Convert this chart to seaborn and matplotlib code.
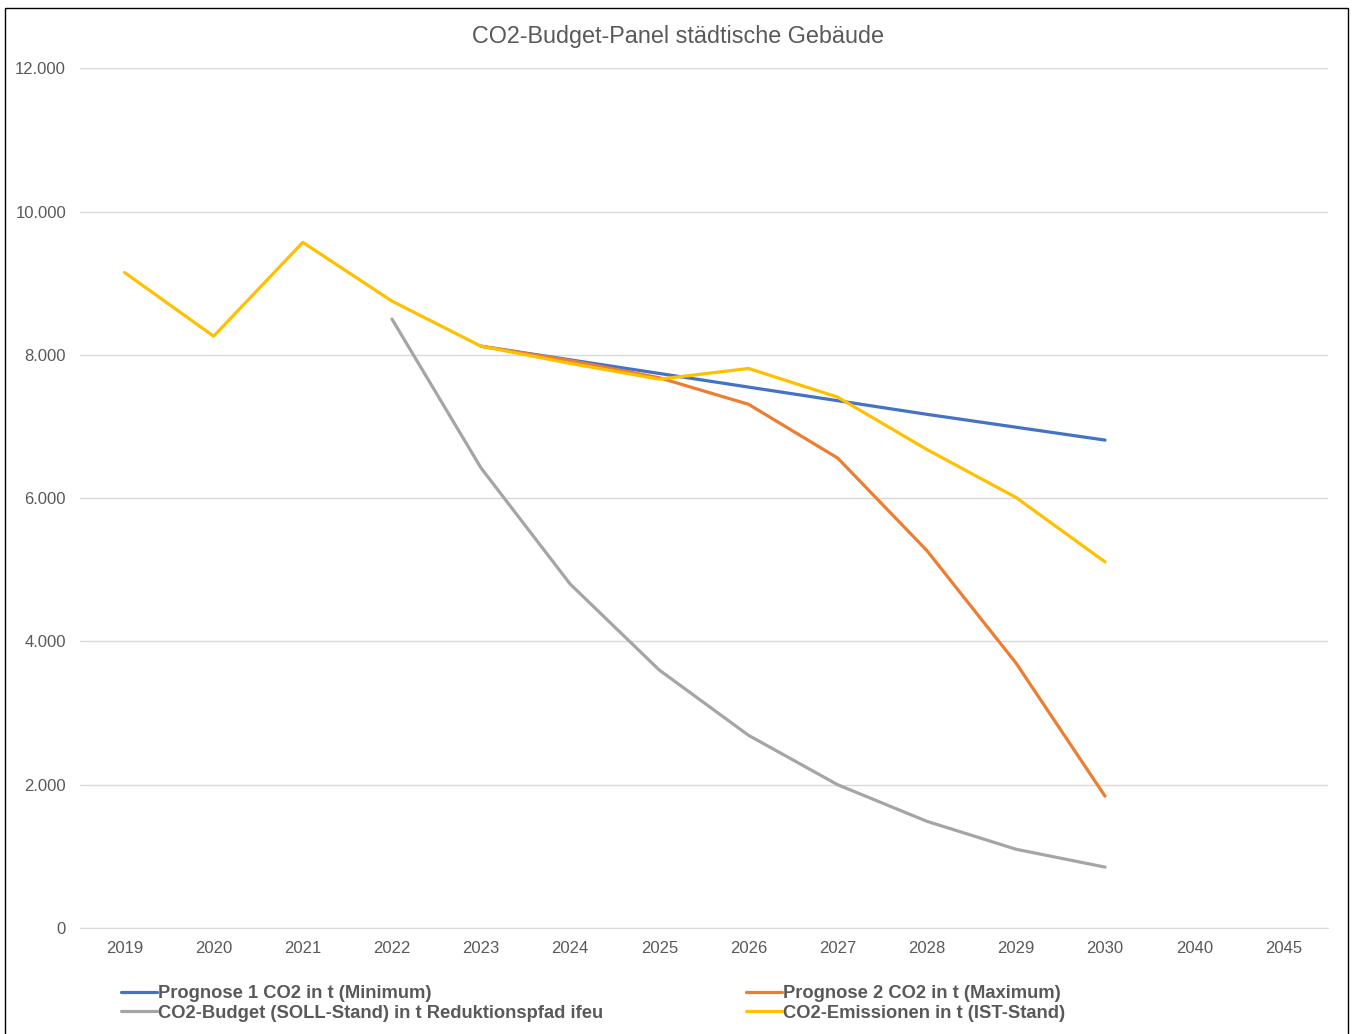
import seaborn as sns
import matplotlib.pyplot as plt
import numpy as np
import pandas as pd
from matplotlib.patches import Rectangle
from matplotlib.ticker import FuncFormatter

years = ["2019", "2020", "2021", "2022", "2023", "2024", "2025",
         "2026", "2027", "2028", "2029", "2030", "2040", "2045"]

nan = np.nan
prognose_min = [nan, nan, nan, nan, 8120, 7930, 7740, 7550, 7360, 7170, 6990, 6810, nan, nan]
prognose_max = [nan, nan, nan, nan, 8120, 7920, 7680, 7310, 6560, 5270, 3700, 1840, nan, nan]
budget_soll = [nan, nan, nan, 8500, 6420, 4800, 3600, 2690, 2000, 1490, 1100, 850, nan, nan]
emissionen_ist = [9150, 8260, 9570, 8750, 8120, 7880, 7660, 7810, 7410, 6680, 6010, 5110, nan, nan]

labels = ["Prognose 1 CO2 in t (Minimum)",
          "Prognose 2 CO2 in t (Maximum)",
          "CO2-Budget (SOLL-Stand) in t Reduktionspfad ifeu",
          "CO2-Emissionen in t (IST-Stand)"]
colors = ["#4472C4", "#ED7D31", "#A5A5A5", "#FFC000"]

sns.set_style("white")
plt.rcParams['font.family'] = ['Liberation Sans', 'DejaVu Sans']
text_gray = "#595959"

fig = plt.figure(figsize=(13.55, 10.34), dpi=100)
ax = fig.add_axes([0.059, 0.1025, 0.921, 0.8315])

pos = np.arange(len(years))
series = [prognose_min, prognose_max, budget_soll, emissionen_ist]
for vals, lab, col in zip(series, labels, colors):
    df = pd.DataFrame({"x": pos, "y": vals}).dropna()
    sns.lineplot(data=df, x="x", y="y", color=col, linewidth=2.3,
                 label=lab, ax=ax, legend=False)

ax.set_xlim(-0.5, len(years) - 0.5)
ax.set_ylim(0, 12000)
ax.set_xticks(pos)
ax.set_xticklabels(years)
ax.set_yticks(np.arange(0, 12001, 2000))
ax.yaxis.set_major_formatter(FuncFormatter(lambda v, p: f"{int(v):,}".replace(",", ".")))
ax.grid(axis="y", color="#D9D9D9", linewidth=1)
ax.set_axisbelow(True)
for s in ["top", "right", "left"]:
    ax.spines[s].set_visible(False)
ax.spines["bottom"].set_color("#D9D9D9")
ax.tick_params(axis="both", length=0, labelsize=12, labelcolor=text_gray)
ax.tick_params(axis="x", pad=9)
ax.tick_params(axis="y", pad=10)
ax.set_xlabel("")
ax.set_ylabel("")

fig.text(0.5, 0.965, "CO2-Budget-Panel städtische Gebäude", ha="center", va="center",
         fontsize=16.8, color=text_gray)

lines = ax.get_lines()
order = [0, 2, 1, 3]
leg = fig.legend([lines[i] for i in order], [labels[i] for i in order],
                 loc="upper left", bbox_to_anchor=(0.0824, 0.0558), ncol=2,
                 frameon=False, handlelength=2.0, handletextpad=0.05,
                 columnspacing=7.75, labelspacing=0.12, borderpad=0,
                 prop={"weight": "bold", "size": 13.2})
for t in leg.get_texts():
    t.set_color(text_gray)

fig.add_artist(Rectangle((0.0037, -0.01), 0.991, 1.002, transform=fig.transFigure,
                         fill=False, edgecolor="black", linewidth=1))

fig.savefig("out.png", dpi=100)
